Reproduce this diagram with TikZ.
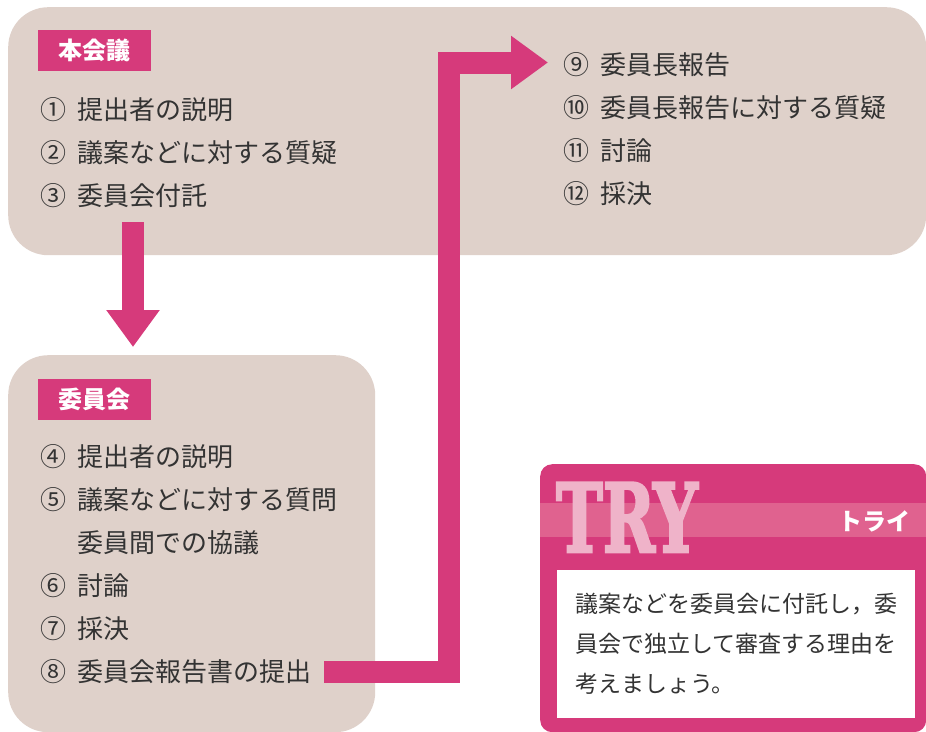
\documentclass[tikz,border=0pt]{standalone}
\usepackage{fontspec}
\setmainfont{Noto Sans CJK JP}
\newfontfamily\tryfont{DejaVu Serif}[BoldFont={DejaVu Serif Bold},BoldFeatures={FakeBold=3}]
\usetikzlibrary{positioning}
\usetikzlibrary{arrows.meta}
\definecolor{boxbg}{HTML}{DFD1CA}
\definecolor{rose}{HTML}{D63A7B}
\definecolor{roseband}{HTML}{E0628F}
\definecolor{roselight}{HTML}{EFB3C9}
\definecolor{ink}{HTML}{333333}
\newcommand{\circnum}[1]{\makebox[37pt][l]{#1}}

\begin{document}
\begin{tikzpicture}[x=1pt,y=-1pt,
   panel/.style={fill=boxbg,rounded corners=40pt,anchor=north west,inner sep=0pt},
   tag/.style={fill=rose,text=white,font=\bfseries\fontsize{24}{24}\selectfont,minimum width=113pt,minimum height=41pt,anchor=north west,inner sep=0pt},
   item/.style={text=ink,font=\fontsize{26}{26}\selectfont,anchor=west,inner sep=0pt},
   fat/.style={draw=rose,line width=22pt,-{Triangle[width=51pt,length=37pt]}}]
   \useasboundingbox (0,0) rectangle (926,731);
   \node[panel,minimum width=918pt,minimum height=248pt] (plenary) at (8,7) {};
   \node[panel,minimum width=367pt,minimum height=377pt] (committee) at (8,355) {};
   \node[fill=rose,rounded corners=12pt,minimum width=386pt,minimum height=268pt,anchor=north west,inner sep=0pt] (try) at (540,464) {};
   \fill[roseband] ([yshift=-39pt]try.north west) rectangle ([yshift=-73pt]try.north east);

   \node[tag] (plenary-tag) at (38,30) {本会議};
   \node[item] (pl1) at (40,110) {\circnum{①}提出者の説明};
   \node[item,below=43pt of pl1.west,anchor=west] (pl2) {\circnum{②}議案などに対する質疑};
   \node[item,below=43pt of pl2.west,anchor=west] (pl3) {\circnum{③}委員会付託};
   \node[item] (pl9) at (563,65) {\circnum{⑨}委員長報告};
   \node[item,below=43pt of pl9.west,anchor=west] (pl10) {\circnum{⑩}委員長報告に対する質疑};
   \node[item,below=43pt of pl10.west,anchor=west] (pl11) {\circnum{⑪}討論};
   \node[item,below=43pt of pl11.west,anchor=west] (pl12) {\circnum{⑫}採決};

   \node[tag] (committee-tag) at (38,379) {委員会};
   \node[item] (cm4) at (40,457) {\circnum{④}提出者の説明};
   \node[item,below=43pt of cm4.west,anchor=west] (cm5) {\circnum{⑤}議案などに対する質問};
   \node[item,below=43pt of cm5.west,anchor=west] (cm5b) {\circnum{}委員間での協議};
   \node[item,below=43pt of cm5b.west,anchor=west] (cm6) {\circnum{⑥}討論};
   \node[item,below=43pt of cm6.west,anchor=west] (cm7) {\circnum{⑦}採決};
   \node[item,below=43pt of cm7.west,anchor=west] (cm8) {\circnum{⑧}委員会報告書の提出};

   \coordinate (drop) at (133,222);
   \draw[fat,shorten >=8pt] (drop) -- (drop |- committee.north);
   \draw[fat] ([xshift=13pt]cm8.east) -- ++(125,0) |- ([xshift=-15pt,yshift=2.5pt]pl9.west);

   \node[text=roselight,font=\tryfont\bfseries\fontsize{95}{95}\selectfont,anchor=base west,inner sep=0pt] (try-mark) at (556,552) {\scalebox{0.66}[1]{TRY}};
   \node[text=white,font=\bfseries\fontsize{24}{24}\selectfont,anchor=east,inner sep=0pt] (try-kana) at (911,521) {トライ};
   \node[fill=white,text=ink,font=\fontsize{23}{40}\selectfont,align=left,minimum width=358pt,minimum height=148pt,anchor=north west,inner sep=0pt] (question) at (557,570) {議案などを委員会に付託し，委\\員会で独立して審査する理由を\\考えましょう。};
\end{tikzpicture}
\end{document}
